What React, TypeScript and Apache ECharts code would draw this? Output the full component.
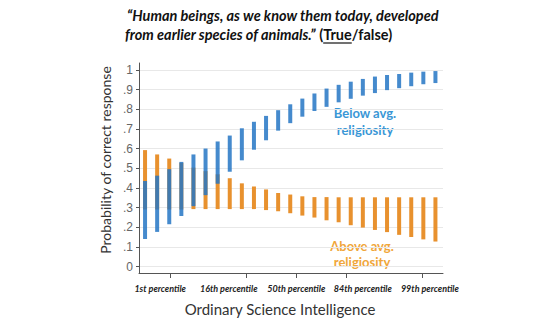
import React, { useEffect, useRef } from "react";
import * as echarts from "echarts";

// Ordinary Science Intelligence, in SD units, one entry per bar
const xPositions = [-3.0, -2.76, -2.52, -2.28, -2.04, -1.8, -1.56, -1.32, -1.08, -0.84, -0.6, -0.36, -0.12, 0.12, 0.36, 0.6, 0.84, 1.08, 1.32, 1.56, 1.8, 2.04, 2.28, 2.52, 2.76];

// Below avg. religiosity: confidence interval low / high
const blueLow = [0.14, 0.176, 0.215, 0.257, 0.307, 0.363, 0.421, 0.482, 0.54, 0.594, 0.642, 0.691, 0.729, 0.762, 0.791, 0.812, 0.835, 0.853, 0.869, 0.882, 0.897, 0.907, 0.917, 0.927, 0.933];
const blueHigh = [0.435, 0.462, 0.495, 0.532, 0.57, 0.6, 0.636, 0.666, 0.703, 0.736, 0.766, 0.795, 0.825, 0.854, 0.88, 0.905, 0.924, 0.94, 0.954, 0.966, 0.974, 0.979, 0.986, 0.991, 0.994];

// Above avg. religiosity: confidence interval low / high
const orangeLow = [0.29, 0.29, 0.29, 0.29, 0.292, 0.292, 0.292, 0.292, 0.292, 0.292, 0.287, 0.281, 0.271, 0.259, 0.249, 0.235, 0.225, 0.21, 0.198, 0.186, 0.175, 0.161, 0.15, 0.138, 0.127];
const orangeHigh = [0.592, 0.57, 0.549, 0.527, 0.503, 0.485, 0.469, 0.449, 0.423, 0.407, 0.392, 0.374, 0.366, 0.357, 0.353, 0.353, 0.352, 0.352, 0.352, 0.352, 0.352, 0.352, 0.352, 0.352, 0.352];

const xTickValues = [-2.5, -1, 0, 1, 2.5];
const xLabelValues = [-2.7, -1.34, 0, 1.32, 2.65];
const xLabels = ["1st percentile", "16th percentile", "50th percentile", "84th percentile", "99th percentile"];

const yTickValues = [0, 0.1, 0.2, 0.3, 0.4, 0.5, 0.6, 0.7, 0.8, 0.9, 1];
const yTickLabels = ["0", ".1", ".2", ".3", ".4", ".5", ".6", ".7", ".8", ".9", "1"];

const BLUE = "#2576c4";
const ORANGE = "#e8912e";

function nearestIndex(arr: number[], v: number) {
  let best = 0;
  for (let i = 1; i < arr.length; i++) {
    if (Math.abs(arr[i] - v) < Math.abs(arr[best] - v)) best = i;
  }
  return best;
}

function intervalSeries(name: string, lows: number[], highs: number[], color: string, opacity: number, z: number) {
  return {
    type: "custom",
    name,
    z,
    silent: true,
    data: xPositions.map((x, i) => [x, lows[i], highs[i]]),
    encode: { x: 0, y: [1, 2] },
    renderItem: (_params: any, api: any) => {
      const x = api.value(0);
      const p1 = api.coord([x, api.value(1)]);
      const p2 = api.coord([x, api.value(2)]);
      return {
        type: "rect",
        shape: { x: p1[0] - 2, y: p2[1], width: 4, height: p1[1] - p2[1] },
        style: { fill: color, opacity },
      };
    },
  };
}

export default function App() {
  const ref = useRef<HTMLDivElement>(null);

  useEffect(() => {
    if (!ref.current) return;
    const chart = echarts.init(ref.current, undefined, { renderer: "svg" });

    const ctx = document.createElement("canvas").getContext("2d")!;
    const titleSize = 14.5;
    ctx.font = `italic bold ${titleSize}px Lato`;
    const w1 = ctx.measureText("from earlier species of animals.\u201D ").width;
    ctx.font = `bold ${titleSize}px Lato`;
    const w2 = ctx.measureText("(").width;
    const w3 = ctx.measureText("True").width;
    const line2X = 125;
    const underlineY = 43;

    chart.setOption({
      animation: false,
      grid: { left: 139, right: 106, top: 63, bottom: 45, containLabel: false },
      xAxis: {
        type: "value",
        min: -3.12,
        max: 2.91,
        name: "Ordinary Science Intelligence",
        nameLocation: "middle",
        nameGap: 28,
        nameTextStyle: { fontFamily: "Lato", fontSize: 15, color: "#333", padding: [0, 22, 0, 0] },
        axisLine: { show: true, onZero: false, lineStyle: { color: "#555", width: 1 } },
        axisTick: { show: true, length: 5, customValues: xTickValues, lineStyle: { color: "#555" } },
        axisLabel: {
          customValues: xLabelValues,
          margin: 11,
          fontFamily: "Lato",
          fontStyle: "italic",
          fontWeight: "bold",
          fontSize: 9,
          color: "#222",
          formatter: (v: number) => xLabels[nearestIndex(xLabelValues, v)],
        },
        splitLine: { show: false },
      },
      yAxis: {
        type: "value",
        min: -0.033,
        max: 1.035,
        name: "Probability of correct response",
        nameLocation: "middle",
        nameGap: 24,
        nameTextStyle: { fontFamily: "Lato", fontSize: 14, color: "#333", padding: [0, 0, 0, 16] },
        axisLine: { show: true, onZero: false, lineStyle: { color: "#555", width: 1 } },
        axisTick: { show: true, length: 3, customValues: yTickValues, lineStyle: { color: "#555" } },
        axisLabel: {
          customValues: yTickValues,
          margin: 6,
          fontFamily: "Liberation Sans",
          fontSize: 12,
          color: "#666",
          formatter: (v: number) => yTickLabels[nearestIndex(yTickValues, v)],
        },
        splitLine: { show: true, lineStyle: { color: "#e8e8e8", width: 1 } },
      },
      series: [
        intervalSeries("Above avg. religiosity", orangeLow, orangeHigh, ORANGE, 1, 2),
        intervalSeries("Below avg. religiosity", blueLow, blueHigh, BLUE, 0.85, 3),
      ],
      graphic: [
        {
          type: "text",
          left: 127,
          top: 8,
          style: {
            text: "\u201CHuman beings, as we know them today, developed",
            font: `italic bold ${titleSize}px Lato`,
            fill: "#111",
          },
        },
        {
          type: "text",
          x: line2X,
          y: 27,
          style: {
            text: "{i|from earlier species of animals.\u201D }{n|(True/false)}",
            rich: {
              i: { fontFamily: "Lato", fontStyle: "italic", fontWeight: "bold", fontSize: titleSize, fill: "#111" },
              n: { fontFamily: "Lato", fontWeight: "bold", fontSize: titleSize, fill: "#111" },
            },
          },
        },
        {
          type: "line",
          shape: { x1: line2X + w1 + w2, y1: underlineY, x2: line2X + w1 + w2 + w3, y2: underlineY },
          style: { stroke: "#111", lineWidth: 1.2 },
        },
        {
          type: "text",
          x: 365,
          y: 121.5,
          style: {
            text: "Below avg.\nreligiosity",
            font: "bold 13px Lato",
            fill: "#3a97d6",
            align: "center",
            verticalAlign: "middle",
            lineHeight: 17,
          },
        },
        {
          type: "text",
          x: 362,
          y: 254,
          style: {
            text: "Above avg.\nreligiosity",
            font: "bold 13px Lato",
            fill: "#f0a63a",
            align: "center",
            verticalAlign: "middle",
            lineHeight: 16,
          },
        },
      ],
    });

    return () => chart.dispose();
  }, []);

  return <div ref={ref} style={{ position: "fixed", left: 0, top: 0, width: 549, height: 321, background: "#fff" }} />;
}
